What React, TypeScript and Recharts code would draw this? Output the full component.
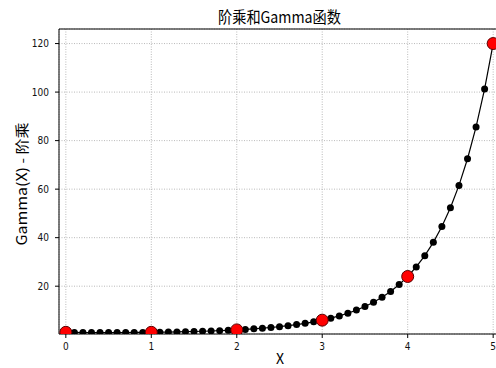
import { ComposedChart, Line, Scatter, XAxis, YAxis, CartesianGrid, ReferenceLine, Customized } from 'recharts';

// sample positions along x (step 0.1) and the Gamma(x+1) values
const xs = [
  0, 0.1, 0.2, 0.3, 0.4, 0.5, 0.6, 0.7, 0.8, 0.9,
  1, 1.1, 1.2, 1.3, 1.4, 1.5, 1.6, 1.7, 1.8, 1.9,
  2, 2.1, 2.2, 2.3, 2.4, 2.5, 2.6, 2.7, 2.8, 2.9,
  3, 3.1, 3.2, 3.3, 3.4, 3.5, 3.6, 3.7, 3.8, 3.9,
  4, 4.1, 4.2, 4.3, 4.4, 4.5, 4.6, 4.7, 4.8, 4.9, 5,
];
const gammaVals = [
  1, 0.951, 0.918, 0.898, 0.887, 0.886, 0.894, 0.909, 0.931, 0.962,
  1, 1.047, 1.102, 1.167, 1.242, 1.329, 1.43, 1.545, 1.677, 1.827,
  2, 2.198, 2.424, 2.683, 2.981, 3.323, 3.717, 4.171, 4.694, 5.3,
  6, 6.813, 7.757, 8.855, 10.14, 11.63, 13.38, 15.43, 17.84, 20.67,
  24, 27.93, 32.58, 38.08, 44.6, 52.34, 61.55, 72.53, 85.62, 101.3, 120,
];
const factX = [0, 1, 2, 3, 4, 5];
const factVals = [1, 1, 2, 6, 24, 120];

const xTicks = [0, 1, 2, 3, 4, 5];
const yTicks = [20, 40, 60, 80, 100, 120];

const curve = xs.map((x, i) => ({ x, g: gammaVals[i] }));
const facts = factX.map((x, i) => ({ x, f: factVals[i] }));

const W = 510;
const H = 368;
const M = { top: 29, right: 10, bottom: 0, left: 0 };
const Y_W = 59;
const X_H = 34;

const tickFont = { fill: '#111', fontSize: 10, fontFamily: '"Liberation Sans Narrow", "DejaVu Sans Condensed", sans-serif' };
const cjk = '"Noto Sans CJK SC", sans-serif';

function Texts() {
  return (
    <g>
      <defs>
        <clipPath id="plotArea">
          <rect x={M.left + Y_W} y={M.top} width={W - M.left - M.right - Y_W} height={H - M.top - M.bottom - X_H} />
        </clipPath>
      </defs>
      <text x={279.5} y={23} textAnchor="middle" fontSize={16} fontFamily={cjk} fill="#000" textLength={123} lengthAdjust="spacingAndGlyphs">
        阶乘和Gamma函数
      </text>
      <text x={0} y={0} transform="translate(27,184) rotate(-90)" textAnchor="middle" fontSize={14} fontFamily={cjk} fill="#000" textLength={123} lengthAdjust="spacingAndGlyphs">
        Gamma(X) - 阶乘
      </text>
      <text x={280} y={364} textAnchor="middle" fontSize={14} fontFamily={cjk} fill="#000">
        X
      </text>
    </g>
  );
}

export default function App() {
  return (
    <div style={{ position: 'fixed', left: 0, top: 0, width: 496, height: 368, overflow: 'hidden', background: '#fff' }}>
      <ComposedChart width={W} height={H} data={curve} margin={M}>
        <Customized component={Texts} />
        <CartesianGrid stroke="#a8a8a8" strokeDasharray="1 1.5" strokeWidth={0.8} />
        <XAxis
          dataKey="x"
          type="number"
          domain={[-0.08, 5.08]}
          ticks={xTicks}
          allowDataOverflow
          height={X_H}
          tickSize={4}
          tickMargin={5}
          tick={tickFont}
          stroke="#000"
          tickLine={{ stroke: '#000' }}
        />
        <YAxis
          type="number"
          domain={[0.3, 126]}
          ticks={yTicks}
          allowDataOverflow
          width={Y_W}
          tickSize={4}
          tickMargin={6}
          tick={tickFont}
          stroke="#000"
          tickLine={{ stroke: '#000' }}
        />
        <ReferenceLine y={126} stroke="#000" strokeWidth={1} />
        <ReferenceLine x={5.08} stroke="#000" strokeWidth={1} />
        <Line
          dataKey="g"
          stroke="#000"
          strokeWidth={1.2}
          dot={(p: any) => <circle key={`d${p.index}`} cx={p.cx} cy={p.cy} r={3.5} fill="#000" clipPath="url(#plotArea)" />}
          isAnimationActive={false}
        />
        <Scatter
          data={facts}
          dataKey="f"
          isAnimationActive={false}
          shape={(p: any) => <circle cx={p.cx} cy={p.cy} r={6} fill="#ff0000" stroke="#5a0000" strokeWidth={1} clipPath="url(#plotArea)" />}
        />
      </ComposedChart>
    </div>
  );
}
